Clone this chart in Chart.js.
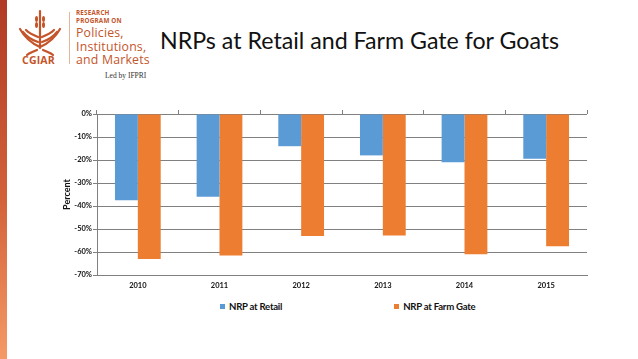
<!DOCTYPE html>
<html>
<head>
<meta charset="utf-8">
<script src="https://cdn.jsdelivr.net/npm/chart.js@4"></script>
<style>
  body { margin: 0; width: 638px; height: 359px; overflow: hidden; background: #fff; position: relative; font-family: Lato, "Open Sans", sans-serif; }
  #sideBar { position: absolute; left: 0; top: 0; width: 7px; height: 359px; background: linear-gradient(#b03a25, #d2613a 55%, #f59a66); }
  #logoText { position: absolute; left: 76px; top: 9px; color: #c4552b; }
  #logoText .small { font-family: "Open Sans", sans-serif; font-weight: 700; font-size: 6.3px; line-height: 7.5px; letter-spacing: 0.2px; }
  #logoText .big { font-family: "Open Sans", sans-serif; font-size: 12.3px; line-height: 13.5px; letter-spacing: 0.2px; }
  #logoText .first { margin-top: 2px; }
  #ledBy { position: absolute; left: 105px; top: 71px; font-family: "Liberation Serif", serif; font-size: 7.5px; color: #333; }
  #cgiar { position: absolute; left: 22px; top: 53px; font-family: "Open Sans", sans-serif; font-weight: 700; font-size: 10.5px; color: #c4552b; letter-spacing: 0.2px; }
  #divider { position: absolute; left: 69px; top: 12px; width: 1px; height: 52px; background: #e6b59c; }
  #title { position: absolute; left: 160px; top: 26px; font-size: 23.2px; color: #111; white-space: nowrap; }
  #chartBox { position: absolute; left: 0; top: 100px; width: 600px; height: 195px; }
  #legend { position: absolute; left: 220px; top: 301px; display: flex; font-family: Lato, sans-serif; font-weight: 700; font-size: 9.6px; letter-spacing: -0.25px; color: #111; }
  #legend .item { display: flex; align-items: center; }
  #legend .box { width: 5px; height: 5px; margin-right: 4px; }
</style>
</head>
<body>
<div id="sideBar"></div>
<svg style="position:absolute;left:0;top:0" width="70" height="60">
  <g stroke="#c4552b" fill="none" stroke-width="2.2" stroke-linecap="round">
    <line x1="40" y1="11" x2="40" y2="48"/>
    <path d="M40 47 C 33 44, 25 38, 20 29"/>
    <path d="M40 47 C 47 44, 55 38, 60 29"/>
    <path d="M38 42 C 32 40, 26 36, 23 32"/>
    <path d="M42 42 C 48 40, 54 36, 57 32"/>
    <path d="M38 37 C 33 35, 29 33, 26 30"/>
    <path d="M42 37 C 47 35, 51 33, 54 30"/>
    <path d="M37 50 C 33 52, 29 53, 27 55"/>
    <path d="M43 50 C 47 52, 51 53, 53 55"/>
  </g>
  <g fill="#c4552b">
    <ellipse cx="36.5" cy="19" rx="1.5" ry="3"/>
    <ellipse cx="43.5" cy="19" rx="1.5" ry="3"/>
    <ellipse cx="36.5" cy="25" rx="1.5" ry="3"/>
    <ellipse cx="43.5" cy="25" rx="1.5" ry="3"/>
  </g>
</svg>
<div id="cgiar">CGIAR</div>
<div id="divider"></div>
<div id="logoText">
  <div class="small">RESEARCH</div>
  <div class="small">PROGRAM ON</div>
  <div class="big first">Policies,</div>
  <div class="big">Institutions,</div>
  <div class="big">and Markets</div>
</div>
<div id="ledBy">Led by IFPRI</div>
<div id="title">NRPs at Retail and Farm Gate for Goats</div>
<div id="chartBox"><canvas id="chart" width="600" height="195"></canvas></div>
<div id="legend"></div>
<script>
const years = ["2010", "2011", "2012", "2013", "2014", "2015"];
const retail = [-37.5, -36, -14, -18, -21, -19.5];
const farmGate = [-63, -61.5, -53, -52.8, -61, -57.5];
const yTicks = [0, -10, -20, -30, -40, -50, -60, -70];

const tickFont = { family: "Lato", weight: "bold", size: 7.5 };

const chart = new Chart(document.getElementById("chart"), {
    type: "bar",
    data: {
        labels: years,
        datasets: [
            { label: "NRP at Retail", data: retail, backgroundColor: "#5B9BD5" },
            { label: "NRP at Farm Gate", data: farmGate, backgroundColor: "#ED7D31" }
        ]
    },
    options: {
        responsive: false,
        animation: false,
        layout: { padding: { top: 10, right: 13, left: 0, bottom: 0 } },
        datasets: { bar: { categoryPercentage: 0.56, barPercentage: 1 } },
        plugins: { legend: { display: false }, tooltip: { enabled: false } },
        scales: {
            x: {
                position: "bottom",
                grid: { display: false, drawTicks: false },
                border: { display: true, color: "#808080" },
                ticks: { padding: 6, color: "#111", font: tickFont },
                afterFit: s => { s.height = 20; }
            },
            x2: {
                type: "category",
                position: "top",
                labels: years,
                offset: true,
                bounds: "ticks",
                grid: { offset: true, drawOnChartArea: false, tickLength: 4, color: "#808080" },
                border: { display: false },
                ticks: { display: false },
                afterFit: s => { s.height = 4; }
            },
            y: {
                min: -70,
                max: 0,
                afterBuildTicks: s => { s.ticks = yTicks.map(v => ({ value: v })); },
                grid: { color: "#808080", tickLength: 4 },
                border: { color: "#808080" },
                ticks: { padding: 1, color: "#111", font: tickFont, callback: v => v + "%" },
                title: { display: true, text: "Percent", color: "#111", font: { family: "Lato", weight: "bold", size: 9 }, padding: { top: 62 } },
                afterFit: s => { s.width = 97; }
            }
        }
    }
});

const legendEl = document.getElementById("legend");
chart.data.datasets.forEach((ds, i) => {
    legendEl.innerHTML += `<div class="item" style="margin-right:${i === 0 ? 112 : 0}px">
        <div class="box" style="background:${ds.backgroundColor}"></div>${ds.label}</div>`;
});
</script>
</body>
</html>
